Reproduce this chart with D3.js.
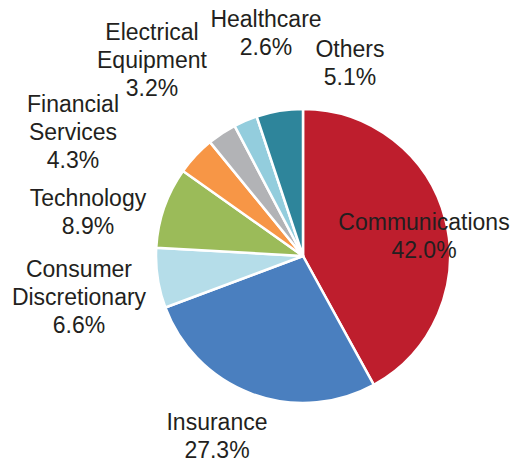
<!DOCTYPE html>
<html>
<head>
<meta charset="utf-8">
<script src="https://cdn.jsdelivr.net/npm/d3@7"></script>
<style>
  html, body { margin: 0; padding: 0; background: #fff; }
  svg { display: block; }
  text { font-family: "Liberation Sans", Arial, Helvetica, sans-serif; font-size: 23px; fill: #231f20; }
</style>
</head>
<body>
<svg id="chart" width="532" height="463"></svg>
<script>
// Data (clockwise from 12 o'clock)
const categories = ["Communications", "Insurance", "Consumer Discretionary", "Technology",
                    "Financial Services", "Electrical Equipment", "Healthcare", "Others"];
const values = [42.0, 27.3, 6.6, 8.9, 4.3, 3.2, 2.6, 5.1];
const labelLines = [
  ["Communications"], ["Insurance"], ["Consumer", "Discretionary"], ["Technology"],
  ["Financial", "Services"], ["Electrical", "Equipment"], ["Healthcare"], ["Others"]
];
const colors = ["#be1e2d", "#4a7fbf", "#b5dde9", "#9bbb59", "#f79646", "#b2b3b6", "#93cddd", "#2e859b"];

// Layout: label anchor (center x, first baseline y)
const labelPos = [
  [424, 230], [217, 430], [79, 277], [88, 206],
  [73, 112], [152, 40], [266, 27], [350, 57]
];

const svg = d3.select("#chart");
const cx = 303, cy = 256, r = 147;
const lineH = 28;

const pie = d3.pie().sort(null).value(d => d)(values);
const arc = d3.arc().innerRadius(0).outerRadius(r);

const g = svg.append("g").attr("transform", `translate(${cx},${cy})`);
g.selectAll("path").data(pie).join("path")
  .attr("d", arc)
  .attr("fill", (d, i) => colors[i])
  .attr("stroke", "#fff")
  .attr("stroke-width", 2.5)
  .attr("stroke-linejoin", "round");

const labels = svg.append("g");
categories.forEach((c, i) => {
  const lines = labelLines[i].concat([values[i].toFixed(1) + "%"]);
  const t = labels.append("text")
    .attr("text-anchor", "middle")
    .attr("x", labelPos[i][0])
    .attr("y", labelPos[i][1]);
  lines.forEach((l, j) => {
    t.append("tspan").attr("x", labelPos[i][0]).attr("dy", j === 0 ? 0 : lineH).text(l);
  });
});
</script>
</body>
</html>
